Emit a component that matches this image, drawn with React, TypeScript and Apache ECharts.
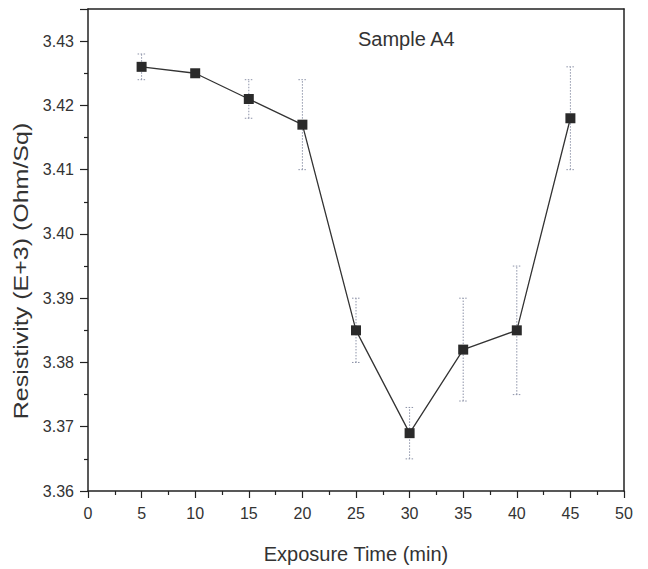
import React, { useEffect, useRef } from "react";
import * as echarts from "echarts";

const times = [5, 10, 15, 20, 25, 30, 35, 40, 45];
const resistivity = [3.426, 3.425, 3.421, 3.417, 3.385, 3.369, 3.382, 3.385, 3.418];
const errLow = [3.424, 3.4245, 3.418, 3.41, 3.38, 3.365, 3.374, 3.375, 3.41];
const errHigh = [3.428, 3.4255, 3.424, 3.424, 3.39, 3.373, 3.39, 3.395, 3.426];

export default function App() {
  const ref = useRef<HTMLDivElement>(null);
  useEffect(() => {
    if (!ref.current) return;
    const chart = echarts.init(ref.current, undefined, { renderer: "svg" });
    const font = "'Liberation Sans', Arial, sans-serif";
    const axisCommon = {
      axisLine: { show: true, onZero: false, lineStyle: { color: "#222", width: 1.5 } },
      splitLine: { show: false },
    };
    chart.setOption({
      animation: false,
      backgroundColor: "#fff",
      grid: { left: 80, right: 24, top: 1, bottom: 78, containLabel: false },
      graphic: [
        {
          type: "text",
          x: 350,
          y: 31,
          style: { text: "Sample A4", font: `20px ${font}`, fill: "#333", textVerticalAlign: "middle" },
        },
        {
          type: "text",
          x: 348,
          y: 546,
          style: {
            text: "Exposure Time (min)",
            font: `20px ${font}`,
            fill: "#333",
            textAlign: "center",
            textVerticalAlign: "middle",
          },
        },
        {
          type: "text",
          x: 13,
          y: 263,
          rotation: Math.PI / 2,
          scaleX: 1.25,
          style: {
            text: "Resistivity (E+3) (Ohm/Sq)",
            font: `20px ${font}`,
            fill: "#333",
            textAlign: "center",
            textVerticalAlign: "middle",
          },
        },
      ],
      xAxis: [
        {
          type: "value",
          min: 0,
          max: 50,
          interval: 5,
          axisTick: { show: true, inside: false, length: 7, lineStyle: { color: "#222", width: 1.2 } },
          minorTick: { show: true, splitNumber: 2, length: 4, lineStyle: { color: "#222", width: 1.2 } },
          axisLabel: { fontFamily: font, fontSize: 16, color: "#333", margin: 14 },
          ...axisCommon,
        },
        {
          type: "value",
          position: "top",
          min: 0,
          max: 50,
          axisTick: { show: false },
          axisLabel: { show: false },
          ...axisCommon,
        },
      ],
      yAxis: [
        {
          type: "value",
          min: 3.36,
          max: 3.435,
          interval: 0.01,
          axisTick: { show: true, inside: false, length: 8, lineStyle: { color: "#222", width: 1.2 } },
          minorTick: { show: true, splitNumber: 2, length: 4, lineStyle: { color: "#222", width: 1.2 } },
          axisLabel: {
            fontFamily: font,
            fontSize: 16,
            color: "#333",
            margin: 14,
            formatter: (v: number) => (v > 3.4301 ? "" : v.toFixed(2)),
          },
          ...axisCommon,
        },
        {
          type: "value",
          position: "right",
          min: 3.36,
          max: 3.435,
          axisTick: { show: false },
          axisLabel: { show: false },
          ...axisCommon,
        },
      ],
      series: [
        {
          type: "custom",
          renderItem: (params: any, api: any) => {
            const x = api.value(0);
            const lo = api.coord([x, api.value(1)]);
            const hi = api.coord([x, api.value(2)]);
            const cap = 4;
            const style = { stroke: "#8d93a8", lineWidth: 1, lineDash: [1.5, 1.5] };
            return {
              type: "group",
              children: [
                { type: "line", shape: { x1: lo[0], y1: lo[1], x2: hi[0], y2: hi[1] }, style },
                { type: "line", shape: { x1: lo[0] - cap, y1: lo[1], x2: lo[0] + cap, y2: lo[1] }, style },
                { type: "line", shape: { x1: hi[0] - cap, y1: hi[1], x2: hi[0] + cap, y2: hi[1] }, style },
              ],
            };
          },
          data: times.map((t, i) => [t, errLow[i], errHigh[i]]),
          z: 1,
        },
        {
          type: "line",
          data: times.map((t, i) => [t, resistivity[i]]),
          symbol: "rect",
          symbolSize: 10,
          itemStyle: { color: "#2a2a2a" },
          lineStyle: { color: "#333", width: 1.3 },
          z: 3,
        },
      ],
    });
    return () => chart.dispose();
  }, []);
  return <div ref={ref} style={{ width: 640, height: 561 }} />;
}
